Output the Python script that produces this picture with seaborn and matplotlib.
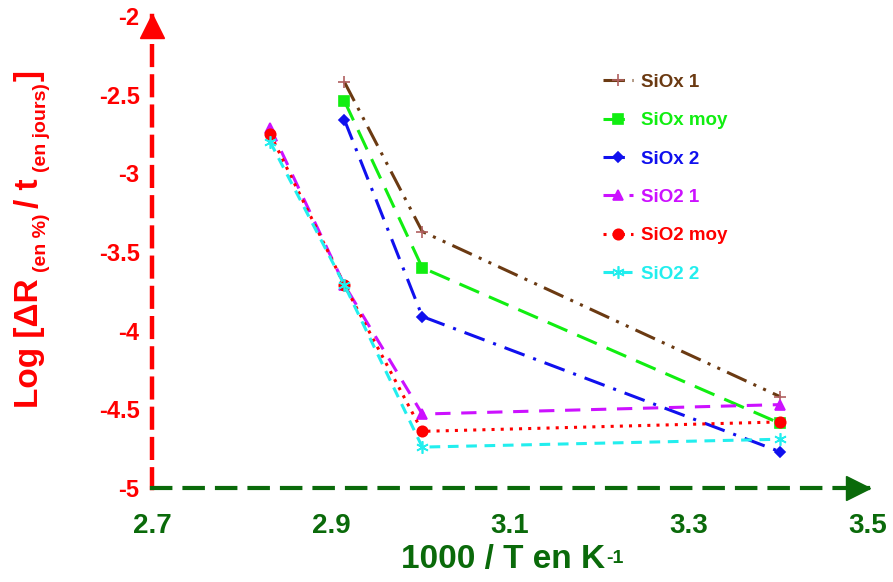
# Arrhenius-type plot: log of resistance drift rate vs 1000/T
import numpy as np
import pandas as pd
import matplotlib
matplotlib.use("Agg")
import matplotlib.pyplot as plt
import matplotlib.transforms as mtransforms
import seaborn as sns

# ── DATA ─────────────────────────────────────
x_siox = [2.915, 3.002, 3.402]
x_sio2 = [2.832, 2.915, 3.002, 3.402]

siox_1 = [-2.42, -3.37, -4.42]
siox_moy = [-2.54, -3.60, -4.59]
siox_2 = [-2.66, -3.91, -4.77]
sio2_1 = [-2.71, -3.71, -4.53, -4.47]
sio2_moy = [-2.75, -3.71, -4.64, -4.58]
sio2_2 = [-2.80, -3.71, -4.74, -4.69]

labels = ["SiOx 1", "SiOx moy", "SiOx 2", "SiO2 1", "SiO2 moy", "SiO2 2"]
x_ticks = [2.7, 2.9, 3.1, 3.3, 3.5]
y_ticks = [-5, -4.5, -4, -3.5, -3, -2.5, -2]

# ── STYLE ────────────────────────────────────
sns.set_theme(style="white")
plt.rcParams["font.family"] = ["Liberation Sans", "DejaVu Sans"]

RED = "#ff0000"
DKGREEN = "#0a6a0a"

series = [
    (x_siox, siox_1, "#6b3a12", "+", "#b06060", (0, (7, 2.5, 1, 2.5, 1, 2.5)), 9),
    (x_siox, siox_moy, "#11ee11", "s", "#11ee11", (0, (7, 3.5)), 7),
    (x_siox, siox_2, "#1010ee", "D", "#1010ee", (0, (7, 3, 1, 3)), 5.5),
    (x_sio2, sio2_1, "#cc11ff", "^", "#cc11ff", (0, (5, 3.5)), 7),
    (x_sio2, sio2_moy, "#ff0000", "o", "#ff0000", (0, (1, 2)), 7.5),
    (x_sio2, sio2_2, "#22eeee", (6, 2, 0), "#22eeee", (0, (3.5, 2.5)), 9),
]

fig = plt.figure(figsize=(8.93, 5.82), dpi=100)
ax = fig.add_axes([152 / 893, 1 - 488 / 582, 716 / 893, 472 / 582])

for (xs, ys, col, mk, mcol, ls, ms), lab in zip(series, labels):
    sns.lineplot(x=xs, y=ys, ax=ax, color=col, label=lab, marker=mk,
                 markersize=ms, markerfacecolor=mcol, markeredgecolor=mcol,
                 markeredgewidth=1.2, linestyle=ls, linewidth=2.2)

ax.set_xlim(2.7, 3.5)
ax.set_ylim(-5, -2)
ax.set_xticks(x_ticks)
ax.set_yticks(y_ticks)
ax.set_xticklabels([f"{v:g}" for v in x_ticks])
ax.set_yticklabels([f"{v:g}" for v in y_ticks])

# ── AXES: dashed spines with arrow heads ─────
for side in ["top", "right"]:
    ax.spines[side].set_visible(False)
ax.spines["left"].set_color(RED)
ax.spines["left"].set_linewidth(3.2)
ax.spines["left"].set_linestyle((0, (4.2, 2.6)))
ax.spines["bottom"].set_color(DKGREEN)
ax.spines["bottom"].set_linewidth(3.0)
ax.spines["bottom"].set_linestyle((0, (4.4, 3.4)))
ax.spines["left"].set_zorder(1)
ax.spines["bottom"].set_zorder(2)

ax.tick_params(axis="y", direction="in", length=7, width=2.5, colors=RED,
               labelsize=17, pad=9)
ax.tick_params(axis="x", direction="in", length=7, width=2.5, colors=DKGREEN,
               labelsize=20, pad=18)
for t in ax.get_yticklabels():
    t.set_fontweight("bold")
for t in ax.get_xticklabels():
    t.set_fontweight("bold")

up = mtransforms.offset_copy(ax.transAxes, fig=fig, x=0, y=-10, units="dots")
ax.plot(0, 1, marker="^", ms=17, color=RED, transform=up, clip_on=False, zorder=5)
right = mtransforms.offset_copy(ax.transAxes, fig=fig, x=-10, y=0, units="dots")
ax.plot(1, 0, marker=">", ms=17, color=DKGREEN, transform=right, clip_on=False, zorder=5)

ax.set_xlabel("1000 / T en K", fontsize=24, fontweight="bold", color=DKGREEN)
ax.xaxis.set_label_coords(0.49, -0.118)
ax.xaxis.label.set_va("top")
ax.set_ylabel("")

fig.canvas.draw()
renderer = fig.canvas.get_renderer()

# superscript "-1" after the K
xl_bb = ax.xaxis.label.get_window_extent(renderer)
fig.text((xl_bb.x1 + 1) / 893, (xl_bb.y1 - 6) / 582, "-1", ha="left", va="top",
         fontsize=14, fontweight="bold", color=DKGREEN)

# ── Y LABEL built from pieces (main text + subscripts) ──
pieces = [
    ("Log [\u0394R", 24, 0, 6),
    ("(en %)", 14, 8, 6),
    ("/ t", 24, 0, 6),
    ("(en jours)", 14, 8, 2),
    ("]", 24, 0, 0),
]
ypix = 408
xbase = 38
for txt, size, dx, gap in pieces:
    t = fig.text((xbase + dx) / 893, 1 - ypix / 582, txt, rotation=90,
                 rotation_mode="anchor", ha="left", va="baseline",
                 fontsize=size, fontweight="bold", color=RED)
    bb = t.get_window_extent(renderer)
    ypix -= bb.height + gap

# ── LEGEND ───────────────────────────────────
leg = ax.legend(loc="upper left", bbox_to_anchor=(586 / 893, 1 - 57 / 582),
                bbox_transform=fig.transFigure, frameon=False,
                handlelength=1.6, handletextpad=0.45, labelspacing=1.13,
                labelcolor="linecolor", prop={"weight": "bold", "size": 13.5})

fig.savefig("out.png", dpi=100)
